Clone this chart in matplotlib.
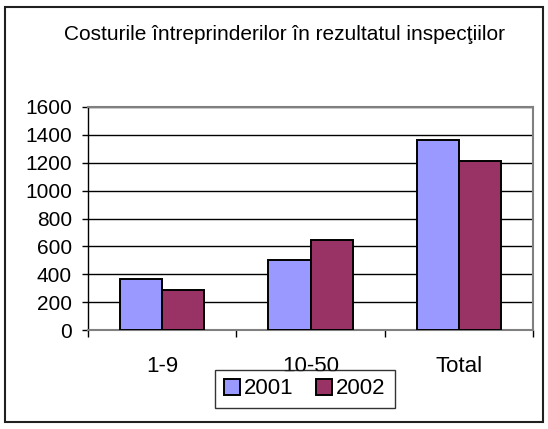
import matplotlib
matplotlib.use("Agg")
import matplotlib.pyplot as plt
from matplotlib.patches import Rectangle, Patch
import numpy as np

plt.rcParams['font.family'] = ['Liberation Sans', 'DejaVu Sans']

title = "Costurile întreprinderilor în rezultatul inspecţiilor"
categories = ["1-9", "10-50", "Total"]
series_names = ["2001", "2002"]
values_2001 = [368, 505, 1362]
values_2002 = [287, 647, 1215]
colors = ["#9999FF", "#993366"]
y_ticks = [0, 200, 400, 600, 800, 1000, 1200, 1400, 1600]

W, H = 548, 429
fig = plt.figure(figsize=(W / 100, H / 100), dpi=100)
fig.patch.set_facecolor("white")

# outer chart frame
fig.patches.append(Rectangle((5 / W, 7 / H), 538 / W, 415 / H, transform=fig.transFigure,
                             fill=False, edgecolor="#202020", lw=1.5, zorder=0))

ax = fig.add_axes([88 / W, 1 - 330 / H, 445 / W, 223 / H])
x = np.arange(len(categories))
bw = 0.285
ax.bar(x - bw / 2, values_2001, bw, color=colors[0], edgecolor="black", lw=1.4, zorder=3)
ax.bar(x + bw / 2, values_2002, bw, color=colors[1], edgecolor="black", lw=1.4, zorder=3)

ax.set_xlim(-0.5, len(categories) - 0.5)
ax.set_ylim(0, 1600)
ax.set_yticks(y_ticks)
ax.set_yticklabels([str(v) for v in y_ticks], fontsize=15)
ax.yaxis.grid(True, color="black", lw=1.0, zorder=0)
ax.set_axisbelow(True)

# category boundaries as major ticks, names as minor tick labels
ax.set_xticks(np.arange(len(categories) + 1) - 0.5)
ax.set_xticklabels([])
ax.set_xticks(x, minor=True)
ax.set_xticklabels(categories, minor=True, fontsize=16)
ax.tick_params(axis="x", which="major", direction="out", length=5, width=1, color="black")
ax.tick_params(axis="x", which="minor", length=0, pad=19)
ax.tick_params(axis="y", direction="out", length=4.5, width=1, color="black", pad=7)

for side in ["top", "right", "bottom"]:
    ax.spines[side].set_color("#808080")
    ax.spines[side].set_linewidth(1.5)
ax.spines["left"].set_color("black")
ax.spines["left"].set_linewidth(1.0)

fig.text(284 / W, 1 - 34 / H, title, ha="center", va="center", fontsize=15)

handles = [Patch(facecolor=c, edgecolor="black", lw=1.4) for c in colors]
leg = fig.legend(handles, series_names, loc="center", bbox_to_anchor=(305 / W, 1 - 389 / H),
                 ncol=2, fontsize=16, frameon=True, fancybox=False, edgecolor="black",
                 handlelength=0.7, handleheight=0.7, handletextpad=0.2, columnspacing=1.0,
                 borderpad=0.4, borderaxespad=0)
leg.get_frame().set_linewidth(1.0)

fig.savefig("out.png", dpi=100)
